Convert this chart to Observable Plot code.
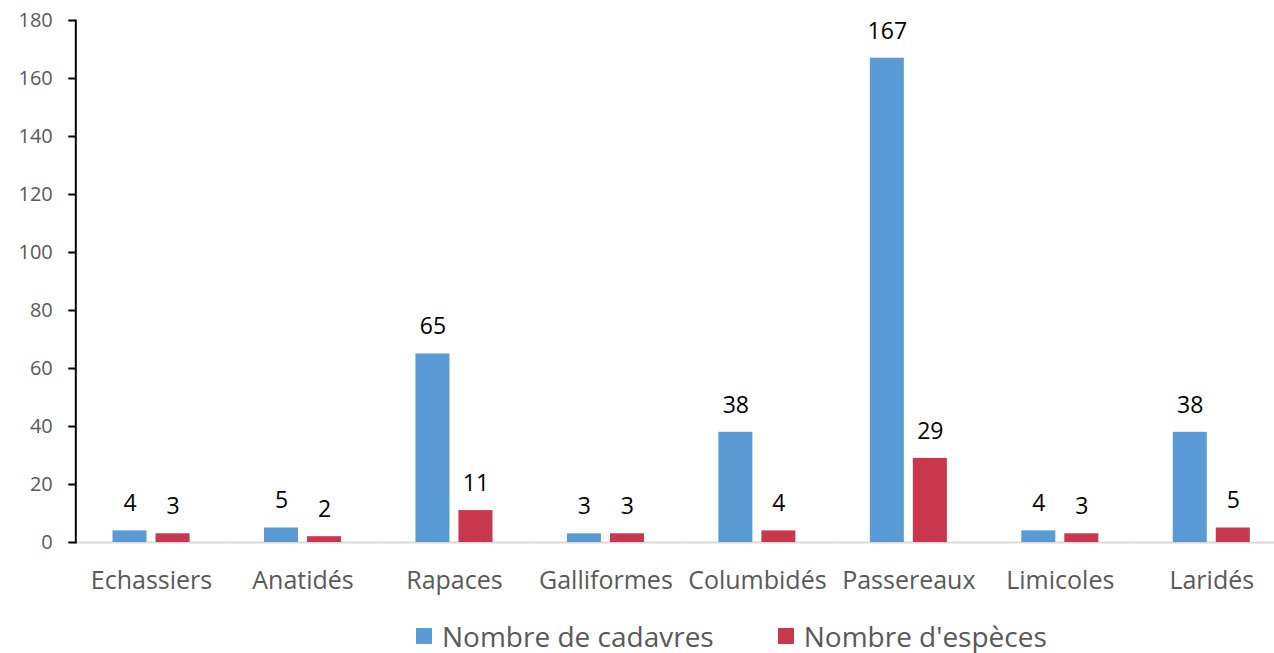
<!DOCTYPE html>
<html>
<head>
<meta charset="utf-8">
<script src="https://cdn.jsdelivr.net/npm/d3@7"></script>
<script src="https://cdn.jsdelivr.net/npm/@observablehq/plot@0.6"></script>
<style>
  body { margin: 0; background: #fff; font-family: "Open Sans", sans-serif; }
  #legend { display: flex; justify-content: flex-start; gap: 64px; font-size: 28px; line-height: 36px; color: #595959; padding-top: 12px; padding-left: 416px; }
  #legend span.item { display: flex; align-items: center; gap: 10px; }
  #legend span.sw { width: 16px; height: 16px; display: inline-block; }
</style>
</head>
<body>
<div id="chart"></div>
<div id="legend"></div>
<script>
const categories = ["Echassiers", "Anatidés", "Rapaces", "Galliformes", "Columbidés", "Passereaux", "Limicoles", "Laridés"];
const seriesNames = ["Nombre de cadavres", "Nombre d'espèces"];
const cadavres = [4, 5, 65, 3, 38, 167, 4, 38];
const especes = [3, 2, 11, 3, 4, 29, 3, 5];
const colors = ["#5B9BD5", "#C8374D"];
const yTicks = [0, 20, 40, 60, 80, 100, 120, 140, 160, 180];

const rows = [];
categories.forEach((c, i) => {
  rows.push({cat: c, serie: seriesNames[0], value: cadavres[i]});
  rows.push({cat: c, serie: seriesNames[1], value: especes[i]});
});

const chart = Plot.plot({
  width: 1274,
  height: 606,
  marginLeft: 75,
  marginRight: 0,
  marginTop: 20,
  marginBottom: 64,
  style: {fontFamily: "Open Sans, sans-serif", background: "white", overflow: "visible"},
  fx: {domain: categories, range: [75.3, 1287], paddingInner: 0, paddingOuter: 0, round: false, label: null},
  x: {domain: seriesNames, paddingInner: 0.209, paddingOuter: 0.865, round: false, axis: null},
  y: {domain: [0, 180], label: null},
  color: {domain: seriesNames, range: colors},
  marks: [
    Plot.ruleY([0], {stroke: "#d9d9d9", strokeWidth: 2}),
    Plot.barY(rows, {fx: "cat", x: "serie", y: "value", fill: "serie"}),
    Plot.text(rows, {fx: "cat", x: "serie", y: "value", text: d => String(d.value), dy: -27, fontSize: 23, fill: "black"}),
    Plot.frame({anchor: "left", facetAnchor: "left", stroke: "black", strokeWidth: 2}),
    Plot.axisY({ticks: yTicks, tickSize: 7, tickFormat: () => "", stroke: "black", strokeWidth: 2}),
    Plot.axisY({ticks: yTicks, tickSize: 0, tickPadding: 23, fontSize: 20, fill: "#595959", tickFormat: d => String(d)}),
    Plot.axisFx({anchor: "bottom", tickSize: 0, tickPadding: 29, fontSize: 25, fill: "#595959", label: null})
  ]
});
document.getElementById("chart").appendChild(chart);

const legend = document.getElementById("legend");
seriesNames.forEach((name, i) => {
  const item = document.createElement("span");
  item.className = "item";
  const sw = document.createElement("span");
  sw.className = "sw";
  sw.style.background = colors[i];
  item.appendChild(sw);
  item.appendChild(document.createTextNode(name));
  legend.appendChild(item);
});
</script>
</body>
</html>
